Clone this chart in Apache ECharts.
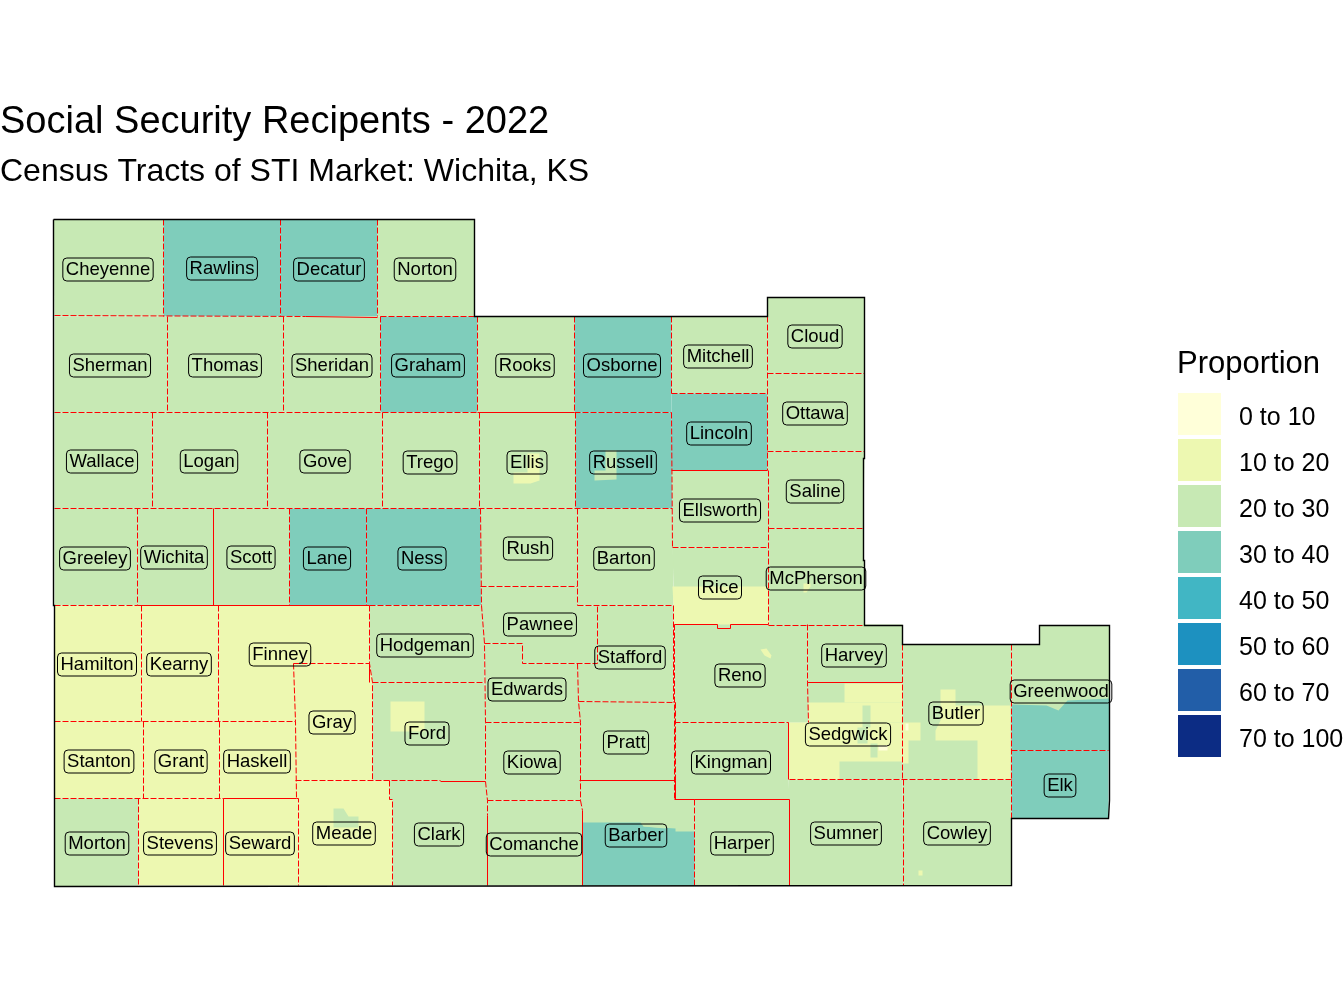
<!DOCTYPE html>
<html><head><meta charset="utf-8">
<style>html,body{margin:0;padding:0;background:#fff}#c{width:1344px;height:1008px}</style>
<script src="https://cdn.jsdelivr.net/npm/echarts@6/dist/echarts.min.js"></script></head>
<body><div id="c"></div>
<script>
const legendLabels=['0 to 10','10 to 20','20 to 30','30 to 40','40 to 50','50 to 60','60 to 70','70 to 100'];
const legendBreaks=[0,10,20,30,40,50,60,70,100];
const legendColors=['#ffffd9','#edf8b1','#c7e9b4','#7fcdbb','#41b6c4','#1d91c0','#225ea8','#0c2c84'];

const countyNames=['Cheyenne','Rawlins','Decatur','Norton','Sherman','Thomas','Sheridan','Graham','Rooks','Osborne','Mitchell','Cloud','Lincoln','Ottawa','Saline','Wallace','Logan','Gove','Trego','Ellis','Russell','Ellsworth','McPherson','Rice','Greeley','Wichita','Scott','Lane','Ness','Rush','Barton','Hamilton','Kearny','Finney','Hodgeman','Pawnee','Stafford','Edwards','Reno','Harvey','Gray','Ford','Pratt','Butler','Sedgwick','Greenwood','Stanton','Grant','Haskell','Kiowa','Kingman','Morton','Stevens','Seward','Meade','Clark','Comanche','Barber','Harper','Sumner','Cowley','Elk'];
const countyLabelX=[108,222,329,425,110,225,332,428,525,622,718,815,719,815,815,102,209,325,430,527,623,720,816,720,95,174,251,327,422,528,624,97,179,280,425,540,630,527,740,854,332,427,626,956,848,1061,99,181,257,532,731,97,180,260,344,439,534,636,742,846,957,1060];
const countyLabelY=[269,268,269,269,365,365,365,365,365,365,356,336,433,413,491,461,461,461,462,462,462,510,578,587,558,557,557,558,558,548,558,664,664,654,645,624,657,689,675,655,722,733,742,713,734,691,761,761,761,762,762,843,843,843,833,834,844,835,843,833,833,785];

const tractValues=[
25,35,35,25, 25,25,25,35,25,35, 25,25,35,25,25,
25,25,25,25,25,35, 25,25,25,
25,25,25,35,35, 25,25,
15,15,15,25, 25,25,25,
25,25, 15,25,25, 25,25,25,
15,15,15,25,25, 25,15,15,15, 25,25,25, 25,25,25,
25,35,35,35,15,25,15,15,15,15,15,15,15,15,15,25,25,5,25,5,15,25
];
const tractRings=[
[[53,219],[163,219],[163,316],[54,316]],[[163,219],[280,219],[280,316],[163,316]],[[280,219],[377,219],[377,316],[280,316]],[[377,219],[474,219],[474,316],[377,316]],
[[54,316],[167,316],[167,412],[54,412]],[[167,316],[283,316],[283,412],[167,412]],[[283,316],[380,316],[380,412],[283,412]],[[380,316],[477,316],[477,412],[380,412]],[[477,316],[574,316],[574,412],[477,412]],[[574,316],[671,316],[671,412],[574,412]],
[[671,316],[767,316],[767,393],[671,393]],[[767,297],[864,297],[864,373],[767,373]],[[671,393],[767,393],[767,470],[671,470]],[[767,373],[864,373],[864,451],[767,451]],[[767,451],[864,451],[863,528],[767,528]],
[[54,412],[152,412],[152,508],[54,508]],[[152,412],[267,412],[267,508],[152,508]],[[267,412],[382,412],[382,508],[267,508]],[[382,412],[479,412],[479,508],[382,508]],[[479,412],[575,412],[575,508],[479,508]],[[575,412],[671,412],[672,508],[575,508]],
[[671,470],[768,470],[768,547],[672,547],[672,508]],[[768,528],[863,528],[864,625],[768,625]],[[672,547],[768,547],[768,625],[674,625]],
[[54,508],[137,508],[137,605],[54,605]],[[137,508],[213,508],[213,605],[137,605]],[[213,508],[289,508],[289,605],[213,605]],[[289,508],[366,508],[366,605],[289,605]],[[366,508],[480,508],[481,605],[366,605]],
[[480,508],[577,508],[577,586],[480,586]],[[577,508],[672,508],[673,605],[577,605]],
[[54,605],[141,605],[141,721],[54,721]],[[141,605],[218,605],[218,721],[141,721]],[[218,605],[369,605],[369,663],[293,663],[295,721],[218,721]],[[369,605],[481,605],[484,643],[484,682],[372,682],[369,663]],
[[480,586],[577,586],[577,605],[597,605],[597,663],[522,663],[522,643],[484,643],[481,605]],[[597,605],[673,605],[673,702],[578,701],[577,663],[597,663]],[[484,643],[522,643],[522,663],[577,663],[578,701],[580,722],[485,722]],
[[674,624],[807,624],[807,682],[808,722],[674,722]],[[807,624],[902,624],[902,682],[807,682]],
[[293,663],[369,663],[372,682],[372,780],[295,780]],[[372,682],[484,682],[485,722],[485,781],[372,780]],[[578,701],[673,702],[675,702],[675,780],[579,780]],
[[902,644],[1011,644],[1011,779],[902,779]],[[807,682],[902,682],[902,779],[788,779],[788,722],[808,722]],[[1011,644],[1039,644],[1039,625],[1109,625],[1109,750],[1011,750]],
[[54,721],[143,721],[143,798],[54,798]],[[143,721],[219,721],[219,798],[143,798]],[[219,721],[295,721],[296,798],[219,798]],[[485,722],[580,722],[580,800],[487,800],[485,781]],[[674,722],[788,722],[788,779],[789,799],[674,799]],
[[54,798],[138,798],[138,885],[54,886]],[[138,798],[223,798],[223,885],[138,885]],[[223,798],[298,798],[298,885],[223,885]],[[295,780],[389,780],[389,799],[392,799],[392,885],[298,885],[298,798],[295,798]],
[[389,780],[485,781],[487,800],[487,885],[392,885],[392,799],[389,799]],[[487,800],[580,800],[582,810],[582,885],[487,885]],[[579,780],[675,780],[675,799],[694,799],[694,885],[582,885],[582,810],[580,800]],
[[694,799],[789,799],[789,885],[694,885]],[[788,779],[902,779],[903,885],[789,885]],[[902,779],[1011,779],[1011,885],[903,885]],
[[594,470],[605,470],[605,450],[616,450],[616,479],[594,480]],
[[1011,750],[1108,750],[1108,818],[1011,818]],
[[1011,704],[1046,705],[1058,710],[1067,700],[1109,698],[1109,750],[1011,750]],
[[582,822],[640,822],[643,826],[675,828],[675,831],[694,831],[694,885],[582,885]],
[[513,483],[513,472],[527,472],[527,453],[539,453],[539,480],[530,483]],
[[333,808],[343,808],[348,816],[358,816],[358,827],[333,827]],
[[672,586],[768,586],[769,624],[674,624]],
[[803,583],[810,583],[810,586],[806,592],[803,592]],
[[760,649],[766,648],[771,655],[770,658],[764,655]],
[[390,701],[424,701],[424,731],[390,731]],
[[844,683],[902,683],[902,702],[844,702]],
[[940,689],[955,689],[955,705],[1010,705],[1010,779],[977,779],[977,740],[935,740],[935,730],[940,720]],
[[902,722],[920,722],[920,740],[908,740],[908,763],[902,763]],
[[808,702],[902,702],[902,722],[808,722]],
[[788,722],[902,722],[902,761],[839,761],[839,779],[788,779]],
[[862,705],[870,705],[870,727],[862,727]],
[[857,727],[867,727],[867,743],[857,743]],
[[878,745],[887,745],[887,750],[878,750]],
[[870,743],[877,743],[877,757],[870,757]],
[[905,723],[908,723],[908,730],[905,730]],
[[918,870],[922,870],[922,875],[918,875]],
[[643,825],[665,825],[665,828],[643,826]]
];
const tractNames=tractRings.map((r,i)=>'tract'+i);

const dashedBorders=[
[[163,219],[163,316]],[[280,219],[280,316]],[[377,219],[377,316]],[[54,315],[305,316]],
[[167,316],[167,412]],[[283,316],[283,412]],[[380,316],[380,412]],[[380,316],[477,316]],[[477,316],[477,412]],[[574,316],[574,412]],[[671,316],[671,393]],
[[54,412],[477,412]],[[574,412],[671,412]],[[152,412],[152,508]],[[267,412],[267,508]],[[382,412],[382,508]],[[479,412],[479,508]],[[575,412],[575,508]],[[671,412],[672,547]],
[[54,508],[672,508]],[[137,508],[137,605]],[[289,508],[289,605]],[[366,508],[366,605]],[[480,508],[481,605]],[[577,508],[577,605]],
[[54,605],[137,605]],[[369,605],[481,605]],[[577,605],[673,605]],[[480,586],[577,586]],
[[671,393],[767,393]],[[672,547],[768,547]],[[767,316],[767,470]],[[768,470],[768,624]],[[767,373],[864,373]],[[767,451],[864,451]],[[768,528],[863,528]],
[[141,605],[141,721]],[[218,605],[218,721]],[[143,721],[143,798]],[[219,721],[219,798]],[[293,663],[295,721],[296,798]],[[293,663],[369,663]],[[54,721],[295,721]],
[[369,605],[369,663],[372,682],[372,780]],[[372,682],[484,682]],[[481,605],[484,643],[485,722],[485,781]],[[484,643],[522,643],[522,663],[597,663],[597,605]],
[[577,663],[578,701],[580,722],[580,800]],[[578,701],[675,702]],[[673,605],[673,702]],[[675,702],[675,780]],[[485,722],[580,722]],[[487,800],[580,800]],
[[295,780],[440,780]],[[389,780],[389,799],[392,799],[392,885]],[[296,798],[298,798],[298,885]],[[54,798],[223,798]],[[138,798],[138,885]],
[[485,781],[487,800],[487,815]],[[580,800],[582,810]],[[674,624],[674,799]],[[674,722],[788,722]],[[674,799],[694,799]],[[694,799],[694,885]],
[[807,624],[807,682],[808,722]],[[768,625],[864,625]],[[902,644],[902,779]],[[903,779],[903,885]],[[789,779],[1011,779]],[[1011,644],[1011,818]],[[1011,750],[1108,750]]
];
const solidBorders=[
[[305,316],[377,317]],[[477,412],[574,412]],[[671,470],[767,470]],[[674,624],[717,624],[717,628],[730,628],[730,624],[768,624]],[[213,508],[213,605]],[[137,605],[369,605]],
[[223,798],[296,798]],[[223,798],[223,885]],[[487,815],[487,885]],[[582,810],[582,885]],[[579,780],[675,780]],[[675,780],[675,799],[694,799]],[[694,799],[789,799]],[[789,799],[789,885]],
[[788,722],[788,779]],[[807,682],[902,682]],[[440,781],[485,781]],[[369,663],[369,682]]
];
const outerBorder=[[[53,219],[474,219],[474,316],[767,316],[767,297],[864,297],[864,458],[863,458],[863,560],[864,560],[864,625],[902,625],[902,644],[1039,644],[1039,625],[1109,625],[1109,800],[1108,818],[1011,818],[1011,885],[54,886],[54,605],[53,605],[53,219]]];

const features=tractRings.map((r,i)=>({type:'Feature',properties:{name:tractNames[i]},geometry:{type:'Polygon',coordinates:[r.concat([r[0]])]}}));
echarts.registerMap('wichita',{type:'FeatureCollection',features});

const pieces=legendLabels.map((l,i)=>({gte:legendBreaks[i],lt:legendBreaks[i+1],label:l,color:legendColors[i]}));
const toLines=a=>a.map(c=>({coords:c}));
const font='"Liberation Sans", Arial, sans-serif';
const chart=echarts.init(document.getElementById('c'),null,{renderer:'canvas'});
chart.setOption({
 animation:false,backgroundColor:'#fff',
 title:[
  {text:'Social Security Recipents - 2022',left:0,top:104,padding:0,textStyle:{fontFamily:font,fontSize:38,fontWeight:'normal',color:'#000'}},
  {text:'Census Tracts of STI Market: Wichita, KS',left:0,top:156,padding:0,textStyle:{fontFamily:font,fontSize:32,fontWeight:'normal',color:'#000'}},
  {text:'Proportion',left:1177,top:349,padding:0,textStyle:{fontFamily:font,fontSize:31,fontWeight:'normal',color:'#000'}}
 ],
 visualMap:{type:'piecewise',seriesIndex:0,inverse:true,orient:'vertical',align:'left',left:1178,top:393,padding:0,itemWidth:43,itemHeight:42,itemGap:4,textGap:18,itemSymbol:'rect',selectedMode:false,hoverLink:false,pieces,textStyle:{fontFamily:font,fontSize:25,color:'#000',verticalAlign:'top',lineHeight:8}},
 geo:{map:'wichita',roam:false,silent:true,projection:{project:p=>p,unproject:p=>p},boundingCoords:[[0,0],[1344,1008]],left:0.5,top:0.5,width:1344,height:1008,aspectScale:1,label:{show:false},itemStyle:{borderWidth:0,areaColor:'#c7e9b4'},emphasis:{disabled:true},select:{disabled:true}},
 series:[
  {type:'map',geoIndex:0,silent:true,data:tractNames.map((n,i)=>({name:n,value:tractValues[i]}))},
  {type:'lines',coordinateSystem:'geo',polyline:true,silent:true,data:toLines(dashedBorders),lineStyle:{color:'#ff0000',width:1,type:[6,2],opacity:1},z:3},
  {type:'lines',coordinateSystem:'geo',polyline:true,silent:true,data:toLines(solidBorders),lineStyle:{color:'#ff0000',width:1,type:'solid',opacity:1},z:3},
  {type:'lines',coordinateSystem:'geo',polyline:true,silent:true,data:toLines(outerBorder),lineStyle:{color:'#000',width:1.4,type:'solid',opacity:1},z:4},
  {type:'scatter',coordinateSystem:'geo',silent:true,symbolSize:1,itemStyle:{color:'rgba(0,0,0,0)',opacity:1},z:5,
   data:countyNames.map((n,i)=>[countyLabelX[i]-0.5,countyLabelY[i],n]),
   label:{show:true,position:'inside',formatter:p=>p.data[2],fontFamily:font,fontSize:18.5,color:'#000',borderColor:'#000',borderWidth:1,borderRadius:4,padding:[2,3,1,3],lineHeight:20}}
 ]
});
</script></body></html>
